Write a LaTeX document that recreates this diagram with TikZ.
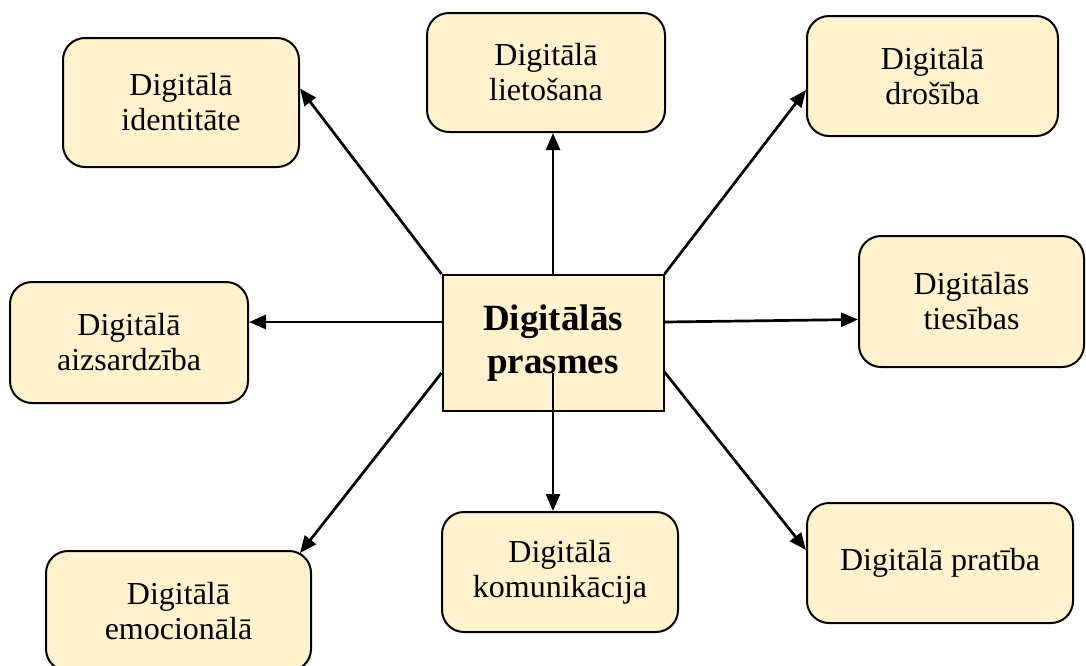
\documentclass[tikz,border=0pt]{standalone}
\usepackage{fontspec}
\setmainfont{Liberation Serif}
\usetikzlibrary{arrows.meta, positioning}

\definecolor{boxfill}{HTML}{FFF2CC}

\begin{document}
\begin{tikzpicture}[x=1pt, y=-1pt,
    every node/.style={align=center, font=\fontsize{32}{35}\selectfont},
    skill/.style={draw, line width=2pt, fill=boxfill, rounded corners=22pt, inner sep=0pt},
    link/.style={-{Triangle[length=17pt, width=14pt]}, line width=2.7pt}]
  \useasboundingbox (0,0) rectangle (1086,665);

  \node (prasmes) [draw, line width=2pt, fill=boxfill, minimum width=221pt, minimum height=136pt, font=\fontsize{37}{43}\selectfont\bfseries] at (553,343) {Digitālās\\prasmes};

  \node (identitate) [skill, minimum width=236pt, minimum height=129pt] at (181,102.5) {Digitālā\\identitāte};
  \node (lietosana) [skill, minimum width=238pt, minimum height=119pt] at (546,72.5) {Digitālā\\lietošana};
  \node (drosiba) [skill, minimum width=251pt, minimum height=120pt] at (932.5,76) {Digitālā\\drošība};
  \node (tiesibas) [skill, minimum width=225pt, minimum height=131pt] at (971.5,301.5) {Digitālās\\tiesības};
  \node (aizsardziba) [skill, minimum width=238pt, minimum height=121pt] at (129,342.5) {Digitālā\\aizsardzība};
  \node (emocionala) [skill, minimum width=265pt, minimum height=120pt] at (178.5,611) {Digitālā\\emocionālā};
  \node (komunikacija) [skill, minimum width=236pt, minimum height=120pt] at (560,572) {Digitālā\\komunikācija};
  \node (pratiba) [skill, minimum width=266pt, minimum height=120pt] at (940,563) {Digitālā pratība};

  \coordinate (west up) at ([yshift=21pt]prasmes.west);
  \coordinate (east up) at ([yshift=21pt]prasmes.east);
  \coordinate (inner low) at ([yshift=-30pt]prasmes.center);

  \draw [link] (prasmes.north west) -- ([yshift=14pt]identitate.east);
  \draw [link] (prasmes.north) -- (prasmes.north |- lietosana.south);
  \draw [link] (prasmes.north east) -- ([yshift=-14pt]drosiba.west);
  \draw [link] (east up) -- ([yshift=-18pt]tiesibas.west);
  \draw [link] (west up) -- (west up -| aizsardziba.east);
  \draw [link] ([yshift=-30pt]prasmes.west) -- ([xshift=-12pt, yshift=-3pt]emocionala.north east);
  \draw [link] (inner low) -- (inner low |- komunikacija.north);
  \draw [link] ([yshift=-29pt]prasmes.east) -- ([yshift=13pt]pratiba.west);
\end{tikzpicture}
\end{document}
